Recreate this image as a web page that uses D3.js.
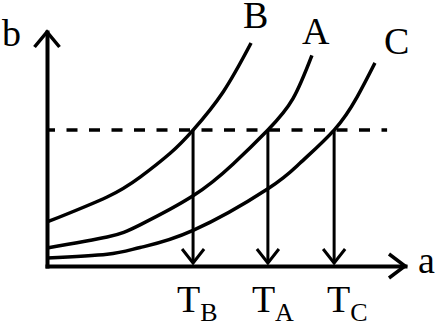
<!DOCTYPE html>
<html>
<head>
<meta charset="utf-8">
<script src="https://cdn.jsdelivr.net/npm/d3@7"></script>
</head>
<body style="margin:0">
<svg id="chart" width="439" height="324"></svg>
<script>
// ---- data (arbitrary units) ----
const curveNames = ["B", "A", "C"];
const curveB = [[0, 1.88], [1.68, 2.95], [2.60, 3.80], [3.44, 4.82], [4.08, 5.81], [4.92, 7.44], [5.70, 9.53]];
const curveA = [[0, 0.77], [1.68, 1.24], [2.60, 1.76], [4.08, 3.00], [5.20, 4.36], [6.17, 5.81], [6.87, 7.15], [7.40, 9.00]];
const curveC = [[0, 0.34], [1.68, 0.50], [2.60, 0.79], [4.08, 1.52], [6.17, 3.30], [7.07, 4.40], [8.02, 5.81], [8.66, 7.22], [9.16, 8.68]];
const thresholdB = 5.81;
const thresholdEndA = 9.5;
const tNames = ["B", "A", "C"];
const tValues = [4.08, 6.17, 8.02];
const axisLabels = ["a", "b"];

const FONT = '"Liberation Serif"';

// ---- layout ----
const svg = d3.select("#chart");
const x = d3.scaleLinear().domain([0, 10]).range([47, 405]);
const y = d3.scaleLinear().domain([0, 10]).range([266, 32]);

// axes (no ticks)
const xAxis = d3.axisBottom(x).tickValues([]).tickSizeOuter(0);
const yAxis = d3.axisLeft(y).tickValues([]).tickSizeOuter(0);
const gx = svg.append("g").attr("transform", `translate(0,${y(0)})`).call(xAxis);
const gy = svg.append("g").attr("transform", `translate(${x(0)},0)`).call(yAxis);
[gx, gy].forEach(g => {
  g.attr("font-family", null).attr("font-size", null);
  g.select(".domain").attr("stroke", "#000").attr("stroke-width", 4).attr("stroke-linecap", "square");
});

// axis arrowheads (open chevrons)
svg.append("path")
  .attr("d", `M${x(0) - 12.5},${y(10) + 15}L${x(0)},${y(10)}L${x(0) + 12.5},${y(10) + 15}`)
  .attr("fill", "none").attr("stroke", "#000").attr("stroke-width", 3.5);
svg.append("path")
  .attr("d", `M${x(10) - 16},${y(0) - 12}L${x(10)},${y(0)}L${x(10) - 16},${y(0) + 12}`)
  .attr("fill", "none").attr("stroke", "#000").attr("stroke-width", 3.5);

// curves
const line = d3.line().x(d => x(d[0])).y(d => y(d[1])).curve(d3.curveNatural);
const curves = [curveB, curveA, curveC];
curves.forEach(c => {
  svg.append("path").attr("d", line(c))
    .attr("fill", "none").attr("stroke", "#000").attr("stroke-width", 3.5);
});

// dashed threshold line
svg.append("line")
  .attr("x1", x(0)).attr("x2", x(thresholdEndA))
  .attr("y1", y(thresholdB)).attr("y2", y(thresholdB))
  .attr("stroke", "#000").attr("stroke-width", 3.5)
  .attr("stroke-dasharray", "11,11.5").attr("stroke-dashoffset", 3);

// vertical arrows
tValues.forEach(t => {
  const xt = x(t), tip = y(0) - 3;
  svg.append("line").attr("x1", xt).attr("x2", xt)
    .attr("y1", y(thresholdB)).attr("y2", tip)
    .attr("stroke", "#000").attr("stroke-width", 3);
  svg.append("path")
    .attr("d", `M${xt - 11},${tip - 14}L${xt},${tip}L${xt + 11},${tip - 14}`)
    .attr("fill", "none").attr("stroke", "#000").attr("stroke-width", 3);
});

// axis labels
svg.append("text").attr("x", 418).attr("y", 273).style("font-family", FONT).attr("font-size", 38).text(axisLabels[0]);
svg.append("text").attr("x", 2).attr("y", 46).style("font-family", FONT).attr("font-size", 38).text(axisLabels[1]);

// curve labels
const labelOffsets = [[-8, -15], [-10, -11], [9, -9]];
curves.forEach((c, i) => {
  const end = c[c.length - 1];
  svg.append("text")
    .attr("x", x(end[0]) + labelOffsets[i][0])
    .attr("y", y(end[1]) + labelOffsets[i][1])
    .style("font-family", FONT)
    .attr("font-size", 38).text(curveNames[i]);
});

// T labels
const tLabelDx = [-16, -16, -7];
tValues.forEach((t, i) => {
  const txt = svg.append("text")
    .attr("x", x(t) + tLabelDx[i]).attr("y", 312)
    .style("font-family", FONT).attr("font-size", 38);
  txt.append("tspan").style("font-family", FONT).text("T");
  txt.append("tspan").style("font-family", FONT).attr("font-size", 26).attr("dy", 9).text(tNames[i]);
});
</script>
</body>
</html>
